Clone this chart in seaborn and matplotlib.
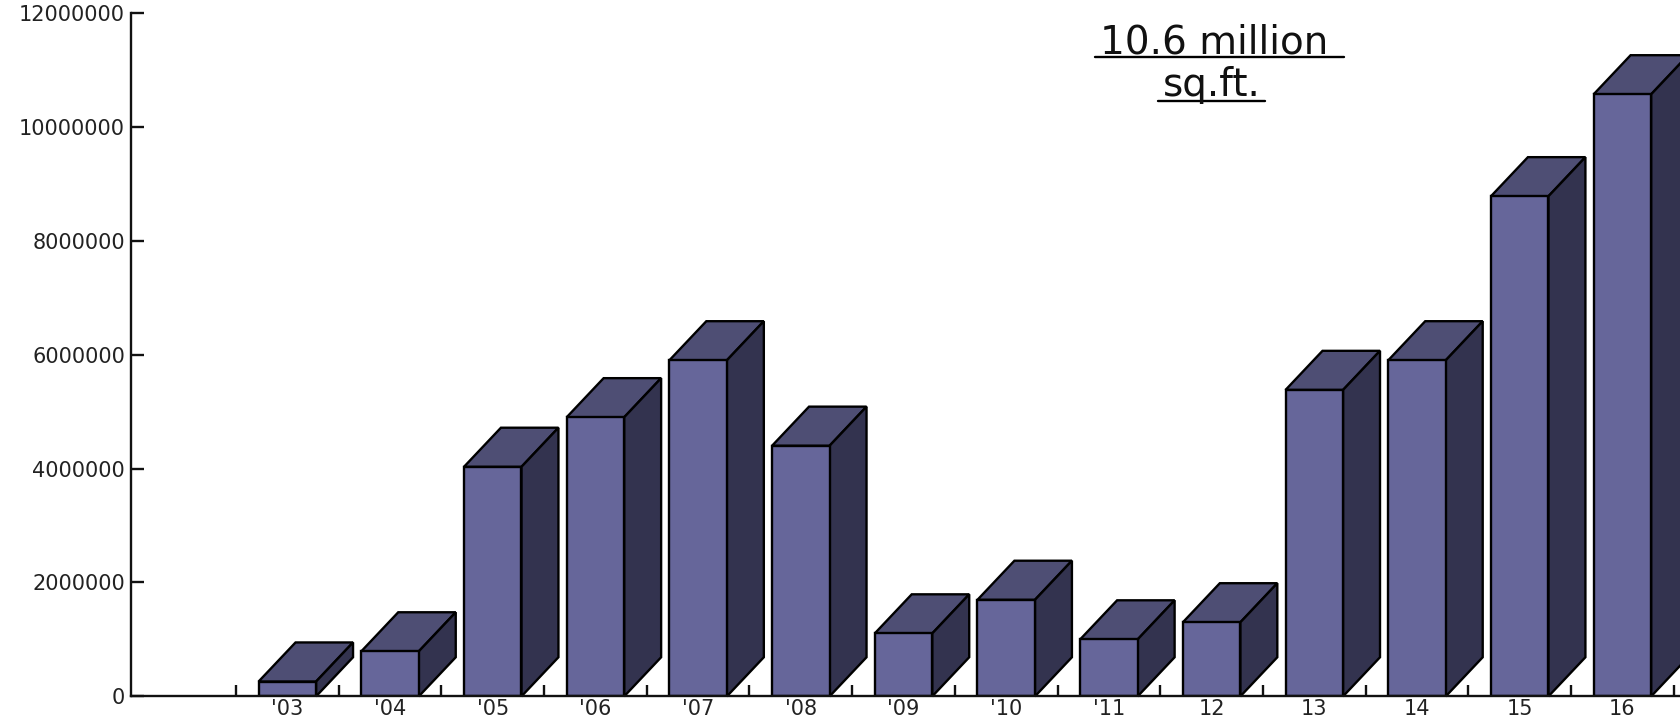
import matplotlib
matplotlib.use("Agg")
import matplotlib.pyplot as plt
from matplotlib.lines import Line2D
from matplotlib.patches import Polygon
from matplotlib.ticker import FixedLocator, FixedFormatter
import seaborn as sns
import pandas as pd

years = ["'03", "'04", "'05", "'06", "'07", "'08", "'09", "'10", "'11", "12", "13", "14", "15", "16"]
sqft = [260000, 790000, 4030000, 4900000, 5900000, 4400000, 1105000,
        1695000, 1000000, 1300000, 5380000, 5900000, 8780000, 10570000]
y_ticks = [0, 2000000, 4000000, 6000000, 8000000, 10000000, 12000000]
note_lines = ["10.6 million", "sq.ft."]

FRONT, TOP, SIDE = "#66669A", "#4E4E74", "#33334F"
INK = "#111111"
LW = 1.7
W, H = 1568.0, 673.0   # layout measured on the shrunk reference


def fx(px):
    return px / W


def fy(px):
    return 1 - px / H


sns.set_theme(style="white")
plt.rcParams["font.family"] = ["DejaVu Sans"]

fig = plt.figure(figsize=(16.8, 7.21), dpi=100, facecolor="white")
ax = fig.add_axes([fx(122), fy(650), fx(1568 - 122), fy(12) - fy(650)])

df = pd.DataFrame({"year": years, "sqft": sqft})
sns.barplot(data=df, x="year", y="sqft", order=years, color=FRONT, saturation=1,
            width=0.56, edgecolor="black", linewidth=LW, ax=ax, zorder=3)

ax.set_xlim(-1.525, 13.561)
ax.set_ylim(0, 12000000)
ax.set_xlabel("")
ax.set_ylabel("")

# extrude every bar that seaborn drew into a 3D box
dx_cat = 34.5 / 95.85
dy_val = 36.5 / 53.17 * 1e6
for bar in list(ax.patches):
    bar.set_facecolor(FRONT)
    x0, w, h = bar.get_x(), bar.get_width(), bar.get_height()
    x1 = x0 + w
    top = Polygon([(x0, h), (x1, h), (x1 + dx_cat, h + dy_val), (x0 + dx_cat, h + dy_val)],
                  closed=True, facecolor=TOP, edgecolor="black", linewidth=LW, zorder=2.5,
                  clip_on=False)
    side = Polygon([(x1, 0), (x1 + dx_cat, dy_val), (x1 + dx_cat, h + dy_val), (x1, h)],
                   closed=True, facecolor=SIDE, edgecolor="black", linewidth=LW, zorder=2.6,
                   clip_on=False)
    ax.add_patch(top)
    ax.add_patch(side)

sns.despine(ax=ax, top=True, right=True)
for s in ("left", "bottom"):
    ax.spines[s].set_linewidth(LW)
    ax.spines[s].set_color(INK)
    ax.spines[s].set_zorder(4)

ax.set_yticks(y_ticks)
ax.set_yticklabels([str(v) for v in y_ticks])
ax.tick_params(axis="y", direction="in", length=9.5, width=LW, color=INK, labelcolor="#222222",
               labelsize=15, pad=4, left=True)

positions = list(range(len(years)))
ax.xaxis.set_major_locator(FixedLocator(positions))
ax.xaxis.set_major_formatter(FixedFormatter(years))
ax.xaxis.set_minor_locator(FixedLocator([p - 0.5 for p in positions] + [positions[-1] + 0.5]))
ax.tick_params(axis="x", which="major", length=0, labelcolor="#222222", labelsize=15, pad=2)
ax.tick_params(axis="x", which="minor", direction="in", length=8, width=LW, color=INK, bottom=True)

# annotation with its underlines
fig.text(fx(1133.5), fy(50), note_lines[0], ha="center", va="baseline", fontsize=28, color=INK)
fig.text(fx(1131), fy(90), note_lines[1], ha="center", va="baseline", fontsize=28, color=INK)
fig.add_artist(Line2D([fx(1022), fx(1254)], [fy(53.5), fy(53.5)], color="black", lw=1.7))
fig.add_artist(Line2D([fx(1081), fx(1181)], [fy(94), fy(94)], color="black", lw=1.7))

fig.savefig("out.png", dpi=100, facecolor="white")
